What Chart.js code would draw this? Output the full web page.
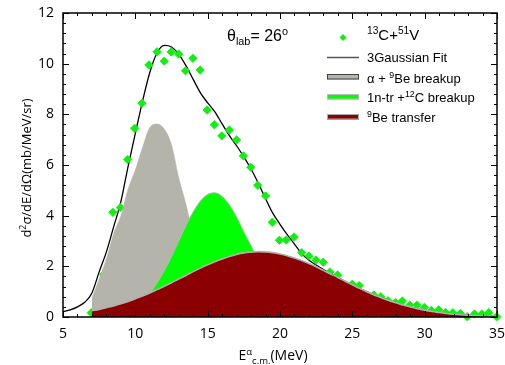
<!DOCTYPE html>
<html><head><meta charset="utf-8">
<script src="https://cdn.jsdelivr.net/npm/chart.js@4"></script>
<style>html,body{margin:0;padding:0;background:#fff}</style>
</head><body>
<div style="width:505px;height:365px"><canvas id="c" width="505" height="365"></canvas></div>
<script>
// ---- data ----
const pointEnergy = [6.95,7.8,8.45,8.97,9.47,9.95,10.46,10.94,11.5,12.0,12.48,12.99,13.47,13.98,14.48,14.97,15.46,15.98,16.5,17.0,17.47,17.98,18.46,19.0,19.47,19.96,20.43,20.97,21.5,22.0,22.48,22.99,23.45,23.98,24.99,25.47,26.48,26.97,27.47,27.98,28.46,28.97,29.47,29.98,30.46,30.97,31.45,31.95,32.46,32.94,33.45,33.95,34.43,34.98];
const pointValue  = [0.17,1.68,4.13,4.32,6.22,7.45,8.44,9.95,10.47,10.1,10.46,10.38,9.72,10.21,9.75,8.17,7.59,7.15,7.38,6.99,6.36,5.91,5.2,4.78,3.74,3.03,3.04,3.16,2.54,2.41,2.25,2.16,1.78,1.66,1.29,1.24,0.87,0.8,0.64,0.57,0.63,0.47,0.47,0.38,0.26,0.28,0.18,0.17,0.14,0.01,0.12,0.12,0.17,0.01];

const fitEnergy = [5,5.5,6,6.5,7,7.5,8,8.5,9,9.5,10,10.5,11,11.5,12,12.5,13,13.5,14,14.5,15,15.5,16,16.5,17,17.5,18,18.5,19,19.5,20,20.5,21,21.5,22,22.5,23,23.5,24,24.5,25,25.5,26,26.5,27,27.5,28,28.5,29,29.5,30,30.5,31,31.5,32,32.5,33,33.5,34,34.5,35];
const fitValue  = [0.21,0.28,0.40,0.58,0.95,1.78,2.57,3.56,4.55,5.95,7.25,8.52,9.65,10.42,10.72,10.66,10.38,9.92,9.38,8.85,8.45,8.10,7.62,7.16,6.76,6.32,5.84,5.28,4.68,4.10,3.66,3.25,2.88,2.50,2.24,2.05,1.87,1.71,1.57,1.41,1.27,1.13,1.00,0.87,0.76,0.65,0.56,0.47,0.40,0.33,0.27,0.22,0.18,0.14,0.11,0.09,0.07,0.05,0.04,0.03,0.02];

const compEnergy = [7,7.5,8,8.5,9,9.5,10,10.5,11,11.5,12,12.5,13,13.5,14,14.5,15,15.5,16,16.5,17,17.5,18,18.5,19,19.5,20,20.5,21,21.5,22,22.5,23,23.5,24,24.5,25,25.5,26,26.5,27,27.5,28,28.5,29,29.5,30,30.5,31,31.5,32,32.5,33,33.5,34,34.5,35];
const alphaBreakup = [0.74,1.5,2.3,3.3,4.0,5.05,5.8,6.7,7.48,7.62,7.42,6.8,5.5,4.45,3.2,2.2,1.3,0.7,0.35,0.15,0.05,0.01,0];
const nTransfer    = [0.01,0.02,0.05,0.08,0.15,0.25,0.41,0.63,0.94,1.34,1.83,2.39,3.0,3.61,4.15,4.58,4.84,4.9,4.76,4.43,3.95,3.37,2.82,2.25,1.7,1.2,0.83,0.54,0.34,0.2,0.12,0.07,0.04,0.02,0.01];
const beTransfer   = [0.25,0.30,0.37,0.44,0.52,0.61,0.72,0.83,0.95,1.08,1.21,1.35,1.50,1.64,1.79,1.93,2.06,2.18,2.29,2.39,2.47,2.53,2.56,2.58,2.57,2.54,2.49,2.42,2.33,2.23,2.11,1.98,1.84,1.70,1.56,1.41,1.27,1.13,1.00,0.87,0.76,0.65,0.56,0.47,0.40,0.33,0.27,0.22,0.18,0.14,0.11,0.09,0.07,0.05,0.04,0.03,0.02];

const legendLabels = [
  [["13",1],["C+",0],["51",1],["V",0]],
  [["3Gaussian Fit",0]],
  [["\u03b1 + ",0],["9",1],["Be breakup",0]],
  [["1n-tr +",0],["12",1],["C breakup",0]],
  [["9",1],["Be transfer",0]]
];
const yTitle = [["d",0],["2",1],["\u03c3/dE/d\u03a9(mb/MeV/sr)",0]];
const xTitle = [["E",0],["\u03b1",1],["c.m.",-1],["(MeV)",0]];
const angleLabel = [["\u03b8",0],["lab",-1],["= 26",0],["o",1]];

const zip = (xs, ys) => ys.map((v, i) => ({x: xs[i], y: v}));

const TICKFONT = "'Open Sans', sans-serif";
const LEGFONT = "'Liberation Sans', Arial, sans-serif";

function richWidth(ctx, parts, size, fam) {
  let w = 0;
  for (const [t, m] of parts) {
    ctx.font = (m ? size * 0.68 : size) + "px " + fam;
    w += ctx.measureText(t).width;
  }
  return w;
}
function drawRich(ctx, parts, x, y, size, fam, align) {
  const w = richWidth(ctx, parts, size, fam);
  let cx = align === 'center' ? x - w / 2 : x;
  ctx.textBaseline = 'alphabetic';
  ctx.textAlign = 'left';
  for (const [t, m] of parts) {
    const s = m ? size * 0.68 : size;
    ctx.font = s + "px " + fam;
    const dy = m === 1 ? -size * 0.38 : (m === -1 ? size * 0.25 : 0);
    ctx.fillText(t, cx, y + dy);
    cx += ctx.measureText(t).width;
  }
}

const framePlugin = {
  id: 'frame',
  afterDraw(chart) {
    const ctx = chart.ctx, a = chart.chartArea;
    const xs = chart.scales.x, ys = chart.scales.y;
    ctx.save();
    ctx.strokeStyle = '#000';
    ctx.lineWidth = 1;
    ctx.beginPath();
    for (let e = 5; e <= 35; e += 1) {
      const px = Math.round(xs.getPixelForValue(e)) + 0.5;
      const len = (e % 5 === 0) ? 6 : 3;
      ctx.moveTo(px, a.bottom); ctx.lineTo(px, a.bottom - len);
      ctx.moveTo(px, a.top); ctx.lineTo(px, a.top + len);
    }
    for (let k = 0; k <= 30; k++) {
      const v = k * 0.4;
      const py = Math.round(ys.getPixelForValue(v)) + 0.5;
      const len = (k % 5 === 0) ? 6 : 3;
      ctx.moveTo(a.left, py); ctx.lineTo(a.left + len, py);
      ctx.moveTo(a.right, py); ctx.lineTo(a.right - len, py);
    }
    ctx.stroke();
    ctx.lineWidth = 1.5;
    ctx.strokeRect(a.left, a.top, a.right - a.left, a.bottom - a.top);

    ctx.fillStyle = '#000';
    drawRich(ctx, xTitle, 273, 360, 14, TICKFONT, 'center');
    ctx.save();
    ctx.translate(31, 168);
    ctx.rotate(-Math.PI / 2);
    drawRich(ctx, yTitle, 0, 0, 13, TICKFONT, 'center');
    ctx.restore();
    drawRich(ctx, angleLabel, 227, 41, 16, LEGFONT, 'left');

    const lx0 = 327, lx1 = 359, tx = 367;
    ctx.fillStyle = '#11ee11';
    ctx.beginPath();
    ctx.moveTo(343, 34); ctx.lineTo(346.5, 37.5); ctx.lineTo(343, 41); ctx.lineTo(339.5, 37.5); ctx.closePath();
    ctx.fill();
    ctx.fillStyle = '#000';
    drawRich(ctx, legendLabels[0], tx, 40, 15, LEGFONT, 'left');
    ctx.strokeStyle = '#555';
    ctx.lineWidth = 1.5;
    ctx.beginPath(); ctx.moveTo(lx0, 57.5); ctx.lineTo(lx1, 57.5); ctx.stroke();
    drawRich(ctx, legendLabels[1], tx, 62, 13, LEGFONT, 'left');
    const boxes = [['#b4b4aa', '#444', 74, 82.5], ['#00ff00', '#bbb', 94, 102], ['#8b0000', '#aaa', 114, 121.5]];
    boxes.forEach((b, i) => {
      ctx.fillStyle = b[0];
      ctx.fillRect(lx0, b[2], lx1 - lx0, 5.5);
      ctx.strokeStyle = b[1];
      ctx.lineWidth = 1;
      ctx.strokeRect(lx0 + 0.5, b[2] + 0.5, lx1 - lx0 - 1, 4.5);
      ctx.fillStyle = '#000';
      drawRich(ctx, legendLabels[i + 2], tx, b[3], 13, LEGFONT, 'left');
    });
    ctx.restore();
  }
};

new Chart(document.getElementById('c'), {
  type: 'scatter',
  data: {
    datasets: [
      {
        label: '13C+51V', data: zip(pointEnergy, pointValue),
        pointStyle: 'rectRot', pointRadius: 4.2, pointBorderWidth: 0.8,
        backgroundColor: '#11ee11', borderColor: '#11ee11',
        order: 4, clip: false
      },
      {
        type: 'line', label: '3Gaussian Fit', data: zip(fitEnergy, fitValue),
        borderColor: '#000', borderWidth: 1.3, pointRadius: 0, fill: false,
        cubicInterpolationMode: 'monotone', order: 5
      },
      {
        type: 'line', label: 'alpha + 9Be breakup', data: zip(compEnergy, alphaBreakup),
        borderColor: '#b4b4aa', borderWidth: 0.5, backgroundColor: '#b4b4aa', pointRadius: 0,
        fill: 'origin', cubicInterpolationMode: 'monotone', order: 3
      },
      {
        type: 'line', label: '1n-tr +12C breakup', data: zip(compEnergy, nTransfer),
        borderColor: '#b8b8b8', borderWidth: 1, backgroundColor: '#00ff00', pointRadius: 0,
        fill: 'origin', cubicInterpolationMode: 'monotone', order: 2
      },
      {
        type: 'line', label: '9Be transfer', data: zip(compEnergy, beTransfer),
        borderColor: '#b0b0b0', borderWidth: 1.6, backgroundColor: '#8b0000', pointRadius: 0,
        fill: 'origin', cubicInterpolationMode: 'monotone', order: 1
      }
    ]
  },
  options: {
    responsive: false,
    animation: false,
    devicePixelRatio: 1,
    layout: { padding: { top: 13, right: 8, left: 0, bottom: 0 } },
    plugins: { legend: { display: false }, tooltip: { enabled: false } },
    scales: {
      x: {
        type: 'linear', min: 5, max: 35,
        ticks: { stepSize: 5, color: '#000', font: { family: TICKFONT, size: 14 }, padding: 9, maxRotation: 0, autoSkip: false },
        grid: { display: false, drawTicks: false }, border: { display: false },
        afterFit(s) { s.height = 48; s.paddingLeft = 0; s.paddingRight = 0; }
      },
      y: {
        min: 0, max: 12,
        ticks: { stepSize: 2, color: '#000', font: { family: TICKFONT, size: 14 }, padding: 9 },
        grid: { display: false, drawTicks: false }, border: { display: false },
        afterFit(s) { s.width = 63; s.paddingTop = 0; s.paddingBottom = 0; }
      }
    }
  },
  plugins: [framePlugin]
});
</script>
</body></html>
